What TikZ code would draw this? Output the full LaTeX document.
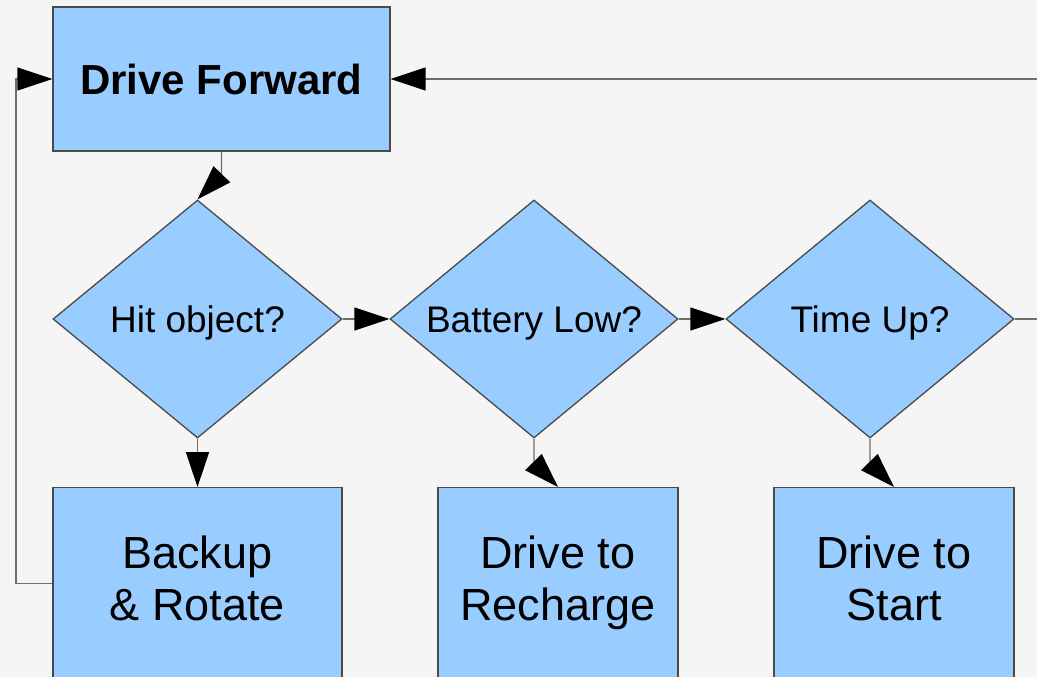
\documentclass[tikz,border=0pt]{standalone}
\usepackage{fontspec}
\setmainfont{Liberation Sans}
\usetikzlibrary{shapes.geometric,arrows.meta}
\definecolor{panel}{HTML}{99CCFF}
\definecolor{paper}{HTML}{F5F5F5}
\definecolor{edge}{HTML}{4A4A4A}
\definecolor{wire}{HTML}{6E6E6E}
\tikzset{
  stepbox/.style={draw=edge, line width=1.3pt, fill=panel, rectangle, inner sep=0pt, align=center},
  testbox/.style={draw=edge, line width=1.3pt, fill=panel, diamond, inner sep=0pt,
    minimum width=289pt, minimum height=238pt, aspect=1.214,
    font=\fontsize{37}{40}\selectfont, text height=26.6pt, text depth=0pt},
  bigtext/.style={font=\fontsize{45}{52}\selectfont},
  conn/.style={draw=wire, line width=1.4pt},
  arr/.style={conn, -{Triangle[length=35pt,width=23pt,fill=black,color=black]}},
}
\begin{document}
\begin{tikzpicture}[x=1pt,y=-1pt]
\useasboundingbox (0,0) rectangle (1037,677);
\clip (0,0) rectangle (1037,677);
\fill[paper] (0,0) rectangle (1037,677);

% top action
\node[stepbox, minimum width=337pt, minimum height=144pt,
      font=\fontsize{42}{48}\selectfont\bfseries] (df) at (221.5,79) {Drive Forward};

% decisions
\node[testbox] (d1) at (197.5,319) {Hit object?};
\node[testbox, minimum width=288pt] (d2) at (534,319) {Battery Low?};
\node[testbox, minimum width=288pt] (d3) at (870,319) {Time Up?};

% actions below the decisions (they run off the bottom edge)
\node[stepbox, bigtext, anchor=north, minimum width=289pt, minimum height=192pt] (b1) at (197.5,487)
  {\strut Backup\\\strut \& Rotate};
\node[stepbox, bigtext, anchor=north, minimum width=240pt, minimum height=192pt] (b2) at (558,487)
  {\strut Drive to\\\strut Recharge};
\node[stepbox, bigtext, anchor=north, minimum width=240pt, minimum height=192pt] (b3) at (894,487)
  {\strut Drive to\\\strut Start};

% routing points for the return loops
\coordinate (lft) at (16,79);
\coordinate (rgt) at (1050,79);

% connectors
\draw[arr] (df.south) -- ++(0,23) -- (d1.north);
\draw[arr] (d1.east) -- (d2.west);
\draw[arr] (d2.east) -- (d3.west);
\draw[arr] (d1.south) -- (b1.north);
\draw[arr] (d2.south) -- ++(0,24) -- (b2.north);
\draw[arr] (d3.south) -- ++(0,24) -- (b3.north);
\draw[arr] (b1.west) -| (lft) -- (df.west);
\draw[arr] (d3.east) -| (rgt) -- (df.east);
\end{tikzpicture}
\end{document}
